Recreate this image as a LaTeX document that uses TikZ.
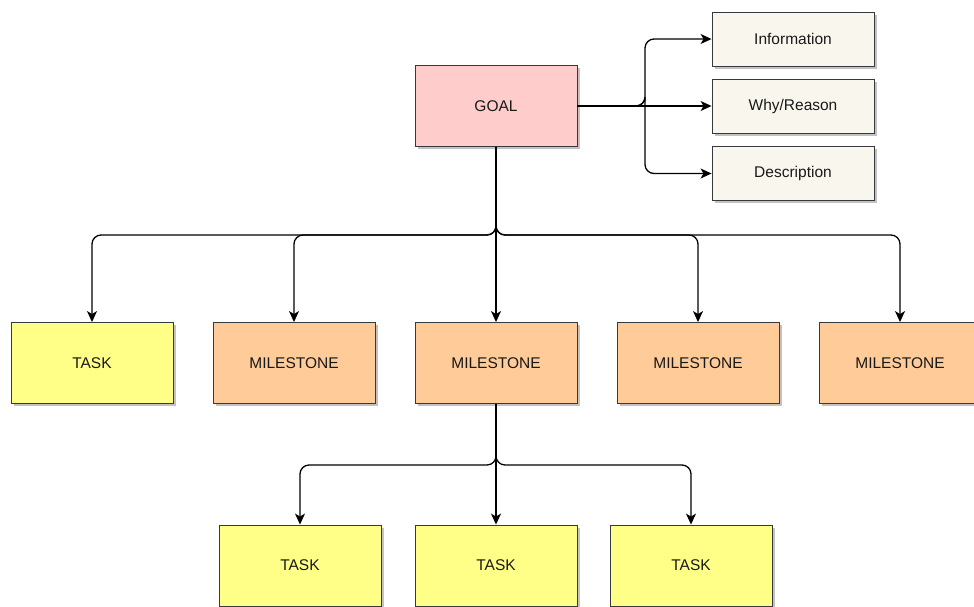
\documentclass[tikz,border=0pt]{standalone}
\usepackage{fontspec}
\setmainfont{Liberation Sans}
\usetikzlibrary{arrows.meta,shadows,positioning}
\definecolor{goalc}{HTML}{FFCCCC}
\definecolor{taskc}{HTML}{FFFF88}
\definecolor{milec}{HTML}{FFCC99}
\definecolor{infoc}{HTML}{F9F7ED}
\definecolor{edgec}{HTML}{36393D}
\tikzset{
  box/.style={draw=edgec, line width=0.9pt, minimum width=162pt, minimum height=81pt,
    font=\fontsize{15.5}{18}\selectfont, text=black!90,
    drop shadow={shadow xshift=2.5pt, shadow yshift=-2.5pt, opacity=0.4, fill=black!60}},
  infobox/.style={box, minimum height=54pt, fill=infoc},
  goalbox/.style={box, fill=goalc},
  taskbox/.style={box, fill=taskc},
  milebox/.style={box, fill=milec},
  conn/.style={draw=black, line width=1.3pt, rounded corners=9pt,
    -{Stealth[length=11pt,width=10pt,inset=3pt]}},
}
\begin{document}
\begin{tikzpicture}[x=1pt,y=-1pt]
\clip (0,0) rectangle (974,606);
\node[goalbox] (goal) at (496,106) {GOAL};
\node[infobox] (info) at (793,39) {Information};
\node[infobox] (why) at (793,106.5) {Why/Reason};
\node[infobox] (desc) at (793,173.5) {Description};
\node[taskbox] (t0) at (92,363) {TASK};
\node[milebox] (m1) at (294,363) {MILESTONE};
\node[milebox] (m2) at (496,363) {MILESTONE};
\node[milebox] (m3) at (698,363) {MILESTONE};
\node[milebox] (m4) at (900,363) {MILESTONE};
\node[taskbox] (t1) at (300,565.5) {TASK};
\node[taskbox] (t2) at (496,565.5) {TASK};
\node[taskbox] (t3) at (691,565.5) {TASK};
\coordinate (bx) at (645,0);
\coordinate (by) at (0,235);
\coordinate (cy) at (0,465);
% goal to info
\draw[conn] (goal.east) -| (bx |- goal.east) |- (info.west);
\draw[conn] (goal.east) -- (why.west |- goal.east);
\draw[conn] (goal.east) -| (bx |- goal.east) |- (desc.west);
% goal to milestones
\draw[conn] (goal.south) |- (t0.north |- by) -- (t0.north);
\draw[conn] (goal.south) |- (m1.north |- by) -- (m1.north);
\draw[conn] (goal.south) -- (m2.north);
\draw[conn] (goal.south) |- (m3.north |- by) -- (m3.north);
\draw[conn] (goal.south) |- (m4.north |- by) -- (m4.north);
% milestone to tasks
\draw[conn] (m2.south) |- (t1.north |- cy) -- (t1.north);
\draw[conn] (m2.south) -- (t2.north);
\draw[conn] (m2.south) |- (t3.north |- cy) -- (t3.north);
\end{tikzpicture}
\end{document}
